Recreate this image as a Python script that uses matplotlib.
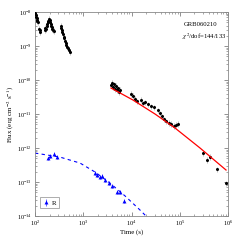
import numpy as np
import matplotlib
matplotlib.use('agg')
import matplotlib.pyplot as plt
from matplotlib.ticker import LogLocator, NullFormatter

# X-ray light curve (s, erg cm^-2 s^-1)
xrt_t = [100, 102, 104, 106, 108, 110, 112, 114,
         122, 125, 128,
         160, 165, 170, 175, 180, 185, 190, 195, 200, 205, 210, 215, 220, 228, 235, 245,
         340, 350, 360, 370, 380, 390, 400, 415, 430, 445, 460, 480, 500, 520,
         3760, 3945, 4140, 4335, 4550, 4775, 5000, 5250, 5510, 5780,
         9800, 10700, 11800, 13000, 15700, 17300, 19000, 22000, 25400, 29200,
         35400, 39000, 42900, 47200, 51900, 59800, 65900, 76000, 83600, 92000,
         3.03e5, 3.67e5, 4.24e5, 5.9e5, 9.1e5]
xrt_f = [9.5e-9, 8.5e-9, 8.0e-9, 7.0e-9, 6.5e-9, 6.0e-9, 5.5e-9, 5.0e-9,
         3.2e-9, 2.6e-9, 2.9e-9,
         3.0e-9, 3.5e-9, 3.2e-9, 4.0e-9, 4.5e-9, 5.0e-9, 5.5e-9, 6.3e-9, 5.8e-9, 5.0e-9,
         4.5e-9, 4.0e-9, 3.6e-9, 3.2e-9, 3.0e-9, 2.8e-9,
         4.0e-9, 3.4e-9, 2.9e-9, 2.5e-9, 2.2e-9, 1.9e-9, 1.7e-9, 1.45e-9, 1.25e-9, 1.1e-9,
         9.5e-10, 8.5e-10, 7.5e-10, 6.8e-10,
         7.1e-11, 8.2e-11, 6.2e-11, 7.6e-11, 5.4e-11, 6.7e-11, 5.1e-11, 5.8e-11, 4.4e-11, 5.1e-11,
         3.9e-11, 3.4e-11, 2.8e-11, 2.4e-11, 2.6e-11, 2.1e-11, 2.25e-11, 1.95e-11, 1.7e-11, 1.6e-11,
         1.3e-11, 1.07e-11, 8.7e-12, 7.1e-12, 6.2e-12, 5.5e-12, 5.1e-12, 4.5e-12, 4.8e-12, 5.1e-12,
         7.1e-13, 4.5e-13, 5.5e-13, 2.4e-13, 9.3e-14]

# X-ray fit curve
fit_t = [3760, 10700, 30700, 79800, 2.63e5, 9.1e5]
fit_f = [5.8e-11, 2.58e-11, 1.0e-11, 3.87e-12, 1.0e-12, 2.25e-13]

# R band
r_t = [190, 200, 245, 290, 1750, 1930, 2220, 2450, 2830, 3420, 3940, 5000, 5780, 7000]
r_f = [5.0e-13, 5.8e-13, 6.8e-13, 5.5e-13, 1.84e-13, 1.6e-13, 1.4e-13, 1.5e-13,
       1.15e-13, 9.3e-14, 7.6e-14, 5.1e-14, 5.1e-14, 2.8e-14]

# R band model
rm_t = [100, 330, 860, 1750, 3580, 7330, 15000, 22000]
rm_f = [7.1e-13, 5.4e-13, 3.6e-13, 1.97e-13, 9.3e-14, 3.9e-14, 1.5e-14, 8.7e-15]

plt.rcParams['font.family'] = ['Liberation Serif', 'DejaVu Serif']
plt.rcParams['mathtext.fontset'] = 'stix'

fig = plt.figure(figsize=(2.4, 2.4), dpi=100)
ax = fig.add_axes([35 / 240, 1 - 216 / 240, 193 / 240, 204 / 240])

xf = np.array(xrt_f)
ax.errorbar(xrt_t, xrt_f, yerr=0.18 * xf, fmt='o', ms=2.2, mew=0, color='black',
            ecolor='#888888', elinewidth=0.4, capsize=0, zorder=3)
ax.plot(fit_t, fit_f, color='red', lw=0.9, zorder=4)

rf = np.array(r_f)
ax.errorbar(r_t, r_f, yerr=0.12 * rf, fmt='^', ms=2.8, mew=0, color='blue',
            ecolor='blue', elinewidth=0.4, capsize=0, zorder=3, label='R')
ax.plot(rm_t, rm_f, color='blue', lw=0.8, ls=(0, (3, 3)), zorder=2)

ax.set_xscale('log')
ax.set_yscale('log')
ax.set_xlim(1e2, 1e6)
ax.set_ylim(1e-14, 1e-8)

ax.xaxis.set_major_locator(LogLocator(base=10, numticks=10))
ax.yaxis.set_major_locator(LogLocator(base=10, numticks=10))
ax.xaxis.set_minor_locator(LogLocator(base=10, subs=np.arange(2, 10), numticks=10))
ax.yaxis.set_minor_locator(LogLocator(base=10, subs=np.arange(2, 10), numticks=10))
ax.xaxis.set_minor_formatter(NullFormatter())
ax.yaxis.set_minor_formatter(NullFormatter())
ax.tick_params(which='both', direction='in', top=True, right=True,
               labelsize=4.5, color='#666666', pad=2)
ax.tick_params(which='major', length=3, width=0.5)
ax.tick_params(which='minor', length=1.5, width=0.4)
for s in ax.spines.values():
    s.set_color('#888888')
    s.set_linewidth(0.6)

ax.set_xlabel('Time (s)', fontsize=5, labelpad=1)
ax.set_ylabel(r'Flux (erg cm$^{-2}$ s$^{-1}$)', fontsize=5, labelpad=1)

ax.text(0.77, 0.95, 'GRB060210', transform=ax.transAxes, fontsize=4.8, va='top')
ax.text(0.76, 0.905, r'$\chi^2$/dof=144/133', transform=ax.transAxes, fontsize=4.8, va='top')

leg = ax.legend(loc='lower left', fontsize=5, handlelength=0.8, handletextpad=0.4,
                borderpad=0.4, fancybox=False, edgecolor='#888888',
                bbox_to_anchor=(0.01, 0.02))
leg.get_frame().set_linewidth(0.6)

fig.savefig('out.png', dpi=100)
